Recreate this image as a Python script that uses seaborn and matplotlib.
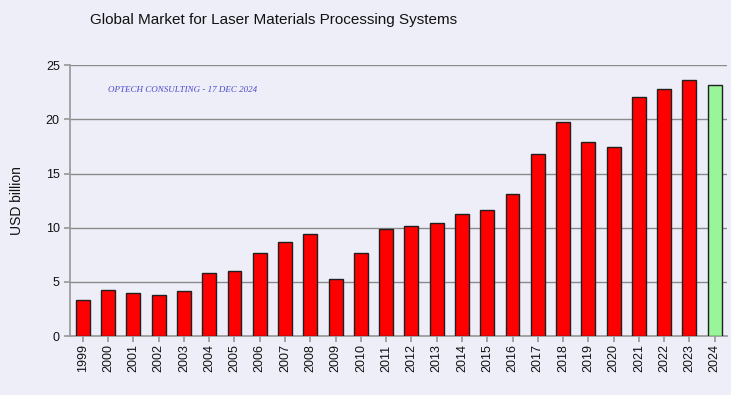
"""Global market for laser materials processing systems, 1999-2024."""
import matplotlib
matplotlib.use("Agg")
import matplotlib.pyplot as plt
import pandas as pd
import seaborn as sns

years = [str(y) for y in range(1999, 2025)]
usd_billion = [3.3, 4.3, 3.95, 3.75, 4.2, 5.8, 6.0, 7.65, 8.65, 9.4, 5.25, 7.65,
               9.9, 10.15, 10.4, 11.3, 11.65, 13.15, 16.85, 19.8, 17.9, 17.45,
               22.1, 22.8, 23.65, 23.2]
kind = ["actual"] * 25 + ["estimate"]

BG = "#EEEEF9"
COLORS = {"actual": "#FF0000", "estimate": "#99F599"}

sns.set_theme(style="white")
plt.rcParams["font.family"] = ["Liberation Sans", "DejaVu Sans"]

df = pd.DataFrame({"year": years, "value": usd_billion, "kind": kind})

fig = plt.figure(figsize=(7.31, 3.95), dpi=100, facecolor=BG)
ax = fig.add_axes([0.096, 0.149, 0.899, 0.686], facecolor=BG)

sns.barplot(data=df, x="year", y="value", hue="kind", palette=COLORS,
            saturation=1, dodge=False, width=0.55, edgecolor="#202020",
            linewidth=1.0, legend=False, ax=ax, zorder=3)

ax.set_ylim(0, 25)
ax.set_xlim(-0.5, len(years) - 0.5)
ax.set_yticks([0, 5, 10, 15, 20, 25])
ax.yaxis.grid(True, color="#8A8A8A", linewidth=1.0, zorder=0)
ax.set_axisbelow(True)
for side in ("top", "right"):
    ax.spines[side].set_visible(False)
for side in ("left", "bottom"):
    ax.spines[side].set_color("#9A9A9A")
ax.tick_params(axis="both", length=4, color="#9A9A9A", labelsize=9,
               labelcolor="#111111", bottom=True, left=True)
ax.tick_params(axis="x", rotation=90, pad=2)
ax.set_xlabel("")
ax.set_ylabel("USD billion", fontsize=10, color="#111111", labelpad=16)

fig.text(0.123, 0.95, "Global Market for Laser Materials Processing Systems",
         fontsize=11, color="#111111", va="center")
ax.text(1.0, 22.7, "OPTECH CONSULTING - 17 DEC 2024", fontsize=6.5,
        color="#4A4AC8", style="italic", family="Liberation Serif",
        va="center", zorder=4)

fig.savefig("out.png", dpi=100, facecolor=BG)
